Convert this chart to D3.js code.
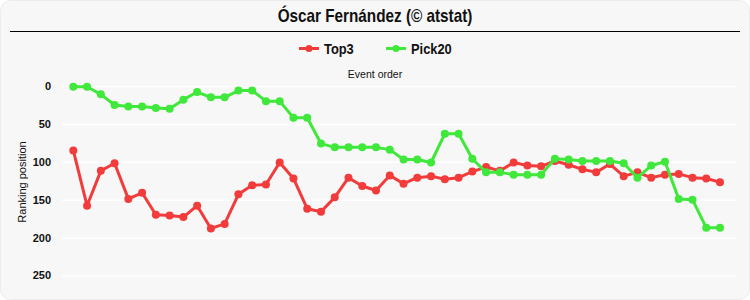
<!DOCTYPE html>
<html>
<head>
<meta charset="utf-8">
<script src="https://cdn.jsdelivr.net/npm/d3@7"></script>
<style>
  body { margin: 0; background: #fff; }
  svg text { font-family: "Liberation Sans", Arial, sans-serif; }
</style>
</head>
<body>
<div id="chart"></div>
<script>
// Ranking position per event (lower is better)
var events = d3.range(48);
var top3 = [85, 158, 112, 102, 149, 141, 170, 171, 173, 158, 188, 182, 143, 131, 130, 101,
            122, 162, 166, 147, 121, 132, 138, 118, 129, 121, 119, 123, 121, 113, 107, 112,
            101, 105, 106, 99, 104, 110, 114, 103, 119, 114, 121, 117, 116, 121, 122, 127];
var pick20 = [1, 1, 11, 25, 27, 27, 29, 30, 18, 8, 15, 15, 6, 6, 20, 20,
              42, 42, 76, 81, 81, 81, 81, 84, 97, 97, 101, 63, 63, 96, 114, 114,
              117, 117, 117, 96, 97, 99, 99, 99, 102, 121, 105, 100, 149, 150, 187, 187];
var yTicks = [0, 50, 100, 150, 200, 250];

var series = [
  { name: 'Top3', values: top3, color: '#f23b3b' },
  { name: 'Pick20', values: pick20, color: '#3fe83a' }
];

var width = 750,
    height = 300;

var svg = d3.select('#chart')
            .append('svg')
            .attr('width', width)
            .attr('height', height);

// card background
svg.append('rect')
   .attr('x', 0.5).attr('y', 0.5)
   .attr('width', width - 1).attr('height', height - 1)
   .attr('rx', 10)
   .attr('fill', '#f7f7f7')
   .attr('stroke', '#ececec');

// title and rule (condensed look, no narrow font installed)
svg.append('text')
   .attr('transform', 'translate(' + (width / 2) + ',22) scale(0.85,1)')
   .attr('text-anchor', 'middle')
   .attr('font-size', 18)
   .attr('font-weight', 'bold')
   .attr('fill', '#111')
   .text('Óscar Fernández (© atstat)');

svg.append('line')
   .attr('x1', 10).attr('x2', 740)
   .attr('y1', 31.5).attr('y2', 31.5)
   .attr('stroke', '#000')
   .attr('stroke-width', 1.2);

// scales
var x = d3.scaleLinear()
          .domain([0, events.length - 1])
          .range([73.3, 720]);

var y = d3.scaleLinear()
          .domain([0, 250])
          .range([86, 275.4]);

// grid lines
var y_axis = d3.axisLeft(y)
               .tickValues(yTicks)
               .tickSizeInner(-(736 - 62))
               .tickSizeOuter(0)
               .tickPadding(11);

var gy = svg.append('g')
            .attr('transform', 'translate(62,0)')
            .call(y_axis);

gy.select('.domain').remove();
gy.selectAll('.tick line')
  .attr('stroke', '#fff')
  .attr('stroke-width', 1.5);
gy.selectAll('.tick text')
  .attr('font-size', 11)
  .attr('font-weight', 'bold')
  .attr('fill', '#111');

// axis titles
svg.append('text')
   .attr('transform', 'translate(26,182) rotate(-90)')
   .attr('text-anchor', 'middle')
   .attr('font-size', 11)
   .attr('fill', '#111')
   .text('Ranking position');

svg.append('text')
   .attr('x', 375)
   .attr('y', 78)
   .attr('text-anchor', 'middle')
   .attr('font-size', 10.5)
   .attr('fill', '#111')
   .text('Event order');

// lines and points
var line = d3.line()
             .x(function(d, i) { return x(i); })
             .y(function(d) { return y(d); });

series.forEach(function(s) {
  var g = svg.append('g');
  g.append('path')
   .attr('d', line(s.values))
   .attr('fill', 'none')
   .attr('stroke', s.color)
   .attr('stroke-width', 3)
   .attr('stroke-linejoin', 'round');
  g.selectAll('circle')
   .data(s.values)
   .enter().append('circle')
   .attr('cx', function(d, i) { return x(i); })
   .attr('cy', function(d) { return y(d); })
   .attr('r', 4)
   .attr('fill', s.color);
});

// legend
var legendX = [299, 386];
var legend = svg.selectAll('.legend')
                .data(series)
                .enter().append('g')
                .attr('class', 'legend')
                .attr('transform', function(d, i) { return 'translate(' + legendX[i] + ',48.5)'; });

legend.append('line')
      .attr('x1', 0).attr('x2', 20)
      .attr('stroke', function(d) { return d.color; })
      .attr('stroke-width', 3);
legend.append('circle')
      .attr('cx', 10)
      .attr('r', 3.5)
      .attr('fill', function(d) { return d.color; });
legend.append('text')
      .attr('transform', 'translate(25,5) scale(0.92,1)')
      .attr('font-size', 14)
      .attr('font-weight', 'bold')
      .attr('fill', '#111')
      .text(function(d) { return d.name; });
</script>
</body>
</html>
